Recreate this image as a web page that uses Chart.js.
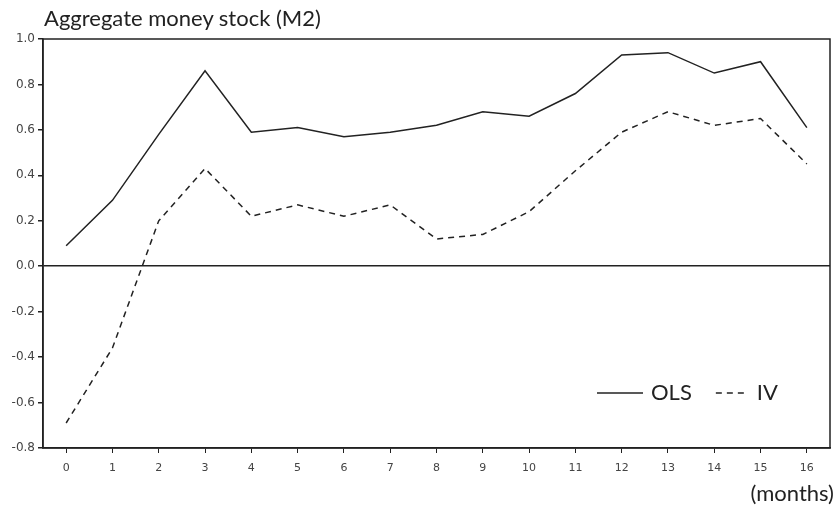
<!DOCTYPE html>
<html>
<head>
<meta charset="utf-8">
<script src="https://cdn.jsdelivr.net/npm/chart.js@4.4.0/dist/chart.umd.min.js"></script>
<style>
  body { margin: 0; background: #fff; }
  #wrap { position: relative; width: 839px; height: 506px; }
  .txt { position: absolute; font-family: Lato, "Open Sans", sans-serif; color: #222; white-space: nowrap; }
  #title { left: 44px; top: 4px; font-size: 22px; }
  #unit { right: 5px; bottom: 0px; font-size: 22px; }
</style>
</head>
<body>
<div id="wrap">
  <canvas id="mychart" width="839" height="506"></canvas>
  <div class="txt" id="title">Aggregate money stock (M2)</div>
  <div class="txt" id="unit">(months)</div>
</div>
<script>
'use strict'

// 横軸：月数
let months = ['0', '1', '2', '3', '4', '5', '6', '7', '8', '9', '10', '11', '12', '13', '14', '15', '16'];
// OLS と IV の推定値
let olsValues = [0.09, 0.29, 0.58, 0.86, 0.59, 0.61, 0.57, 0.59, 0.62, 0.68, 0.66, 0.76, 0.93, 0.94, 0.85, 0.90, 0.61];
let ivValues = [-0.69, -0.36, 0.20, 0.43, 0.22, 0.27, 0.22, 0.27, 0.12, 0.14, 0.24, 0.42, 0.59, 0.68, 0.62, 0.65, 0.45];
// 縦軸の目盛り
let yTicks = [-0.8, -0.6, -0.4, -0.2, 0.0, 0.2, 0.4, 0.6, 0.8, 1.0];

let ctx = document.getElementById('mychart');

// 枠線と凡例を描くプラグイン
const frameLegend = {
  id: 'frameLegend',
  afterDraw(chart) {
    const c = chart.ctx;
    const a = chart.chartArea;
    c.save();
    c.strokeStyle = '#222';
    c.lineWidth = 1.5;
    c.setLineDash([]);
    c.strokeRect(a.left, a.top, a.right - a.left, a.bottom - a.top);

    // 凡例
    c.font = '22px Lato, "Open Sans", sans-serif';
    c.fillStyle = '#222';
    c.textBaseline = 'middle';
    const y = 393;
    let x = 597;
    chart.data.datasets.forEach((ds) => {
      c.beginPath();
      c.setLineDash(ds.borderDash || []);
      c.lineWidth = 1.5;
      c.strokeStyle = ds.borderColor;
      const len = ds.borderDash ? 33 : 46;
      c.moveTo(x, y);
      c.lineTo(x + len, y);
      c.stroke();
      c.setLineDash([]);
      c.fillText(ds.label, x + len + 8, y);
      x += len + 8 + c.measureText(ds.label).width + 24;
    });
    c.restore();
  }
};

let myChart = new Chart(ctx, {
  type: 'line',
  data: {
    labels: months,
    datasets: [{
      label: 'OLS',
      data: olsValues,
      borderColor: '#222',
      borderWidth: 1.5,
      pointRadius: 0,
      tension: 0,
    }, {
      label: 'IV',
      data: ivValues,
      borderColor: '#222',
      borderWidth: 1.5,
      borderDash: [6, 5],
      pointRadius: 0,
      tension: 0,
    }],
  },
  options: {
    responsive: false,
    animation: false,
    layout: { padding: { top: 39, right: 9, left: 0, bottom: 0 } },
    plugins: {
      legend: { display: false },
      tooltip: { enabled: false },
    },
    scales: {
      x: {
        offset: true,
        grid: { offset: false, drawOnChartArea: false, tickLength: 5, tickColor: '#222' },
        border: { color: '#222', width: 1.5 },
        ticks: { color: '#444', font: { family: 'DejaVu Sans', size: 11 }, padding: 9, maxRotation: 0, autoSkip: false },
        afterFit(scale) { scale.height = 58; },
      },
      y: {
        min: -0.8,
        max: 1.0,
        afterBuildTicks(scale) { scale.ticks = yTicks.map((v) => ({ value: v })); },
        grid: {
          color: (c) => (c.tick && Math.abs(c.tick.value) < 1e-9 ? '#222' : 'rgba(0,0,0,0)'),
          lineWidth: 1.5,
          tickLength: 5,
          tickColor: '#222',
        },
        border: { color: '#222', width: 1.5 },
        ticks: {
          color: '#444',
          font: { family: 'DejaVu Sans', size: 12 },
          padding: 3,
          callback: (v) => (Math.abs(v) < 1e-9 ? '0.0' : Number(v).toFixed(1)),
        },
        afterFit(scale) { scale.width = 43; },
      },
    },
  },
  plugins: [frameLegend],
});
</script>
</body>
</html>
